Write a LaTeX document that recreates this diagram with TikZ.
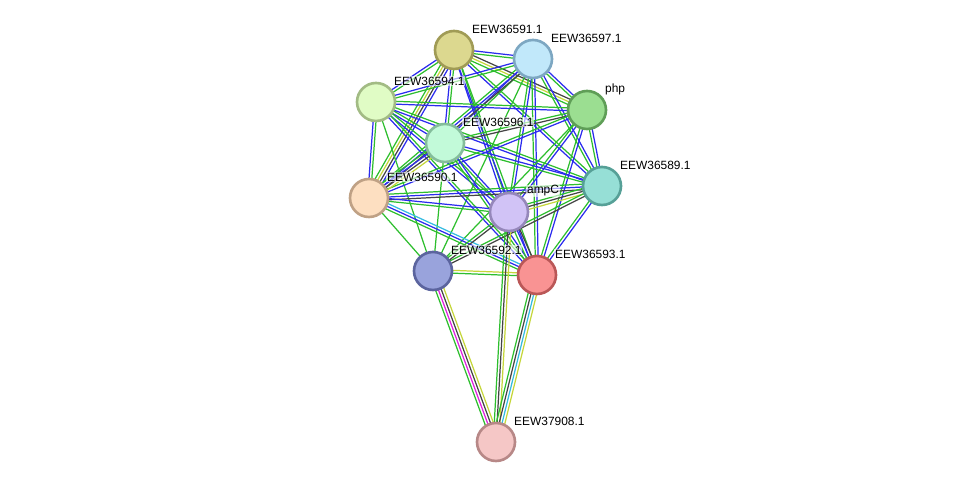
\documentclass[tikz,border=0pt]{standalone}
\usepackage{fontspec}
\setmainfont{Liberation Sans}
\usetikzlibrary{calc,backgrounds}

\definecolor{sgreen}{HTML}{2DBE2D}
\definecolor{sblue}{HTML}{2B2BEE}
\definecolor{sblack}{HTML}{444444}
\definecolor{syellow}{HTML}{C5D63A}
\definecolor{smagenta}{HTML}{E020E0}
\definecolor{scyan}{HTML}{33BBE0}

% one link = several thin parallel lines, one per evidence colour
\newcommand\link[3]{%
  \edef\linkcols{#3}%
  \foreach \c [count=\n] in \linkcols {\xdef\nlines{\n}}%
  \foreach \c [count=\k] in \linkcols {%
    \pgfmathsetmacro\off{(\k-(\nlines+1)/2)*1.6}%
    \draw[\c] ($(#1)!\off pt!90:(#2)$) -- ($(#2)!\off pt!-90:(#1)$);}}

\begin{document}
\begin{tikzpicture}[
  prot/.style={circle,minimum size=7.6mm,inner sep=0pt,line width=1.5pt},
  lbl/.style={label distance=0pt,xshift=-0.7mm,yshift=4.2mm,font=\fontsize{6.8}{8}\selectfont,
    fill=white,fill opacity=0.6,text opacity=1,inner sep=0.4pt},
  every path/.style={line width=0.7pt}]
\useasboundingbox (0,0) rectangle (19.5,9.76);
\node[prot,fill={rgb,255:red,220;green,216;blue,143},draw={rgb,255:red,160;green,155;blue,85},label={[lbl]east:EEW36591.1}] (w91) at (9.08,8.76) {};
\node[prot,fill={rgb,255:red,193;green,232;blue,250},draw={rgb,255:red,125;green,167;blue,194},label={[lbl]east:EEW36597.1}] (w97) at (10.66,8.58) {};
\node[prot,fill={rgb,255:red,224;green,252;blue,197},draw={rgb,255:red,162;green,187;blue,132},label={[lbl]east:EEW36594.1}] (w94) at (7.52,7.72) {};
\node[prot,fill={rgb,255:red,155;green,222;blue,145},draw={rgb,255:red,95;green,158;blue,87},label={[lbl]east:php}] (php) at (11.74,7.56) {};
\node[prot,fill={rgb,255:red,194;green,250;blue,217},draw={rgb,255:red,132;green,189;blue,155},label={[lbl]east:EEW36596.1}] (w96) at (8.90,6.90) {};
\node[prot,fill={rgb,255:red,150;green,223;blue,214},draw={rgb,255:red,86;green,160;blue,151},label={[lbl]east:EEW36589.1}] (w89) at (12.04,6.04) {};
\node[prot,fill={rgb,255:red,253;green,223;blue,193},draw={rgb,255:red,191;green,161;blue,133},label={[lbl]east:EEW36590.1}] (w90) at (7.38,5.80) {};
\node[prot,fill={rgb,255:red,209;green,195;blue,246},draw={rgb,255:red,149;green,135;blue,186},label={[lbl]east:ampC}] (ampC) at (10.18,5.52) {};
\node[prot,fill={rgb,255:red,153;green,163;blue,220},draw={rgb,255:red,91;green,100;blue,158},label={[lbl]east:EEW36592.1}] (w92) at (8.66,4.34) {};
\node[prot,fill={rgb,255:red,249;green,147;blue,147},draw={rgb,255:red,186;green,87;blue,87},label={[lbl]east:EEW36593.1}] (w93) at (10.74,4.26) {};
\node[prot,fill={rgb,255:red,245;green,199;blue,198},draw={rgb,255:red,183;green,136;blue,135},label={[lbl]east:EEW37908.1}] (w08) at (9.92,0.92) {};
\begin{scope}[on background layer]
\foreach \u/\v/\cols in {
  w91/w97/{sgreen,sblue}, w91/w94/{sblue,sgreen}, w91/php/{sgreen,syellow,sblack},
  w91/w96/{sblue,sgreen}, w91/w89/{sblue,sgreen}, w91/w90/{sgreen,syellow,sblack,sblue},
  w91/ampC/{sblue,sgreen}, w91/w93/{sblue,sgreen},
  w97/w94/{sblue,sgreen}, w97/php/{sgreen,sblue}, w97/w96/{sblue,sgreen},
  w97/w89/{sgreen,sblue}, w97/ampC/{sgreen,sblue}, w97/w93/{sgreen,sblue},
  w97/w90/{sgreen,sblue,sblack}, w97/w92/{sgreen},
  w94/php/{sblue,sgreen}, w94/w96/{sblue,sgreen}, w94/w89/{sblue,sgreen},
  w94/w90/{sblue,sgreen}, w94/ampC/{sblue,sgreen}, w94/w93/{sblue,sgreen}, w94/w92/{sgreen},
  php/w96/{sgreen,sblack}, php/w89/{sgreen,sblue}, php/w90/{sgreen,sblue},
  php/ampC/{sgreen,sblue}, php/w93/{sgreen,sblue}, php/w92/{sgreen},
  w96/w89/{sgreen,sblue}, w96/w90/{sgreen,sblue,sblack,syellow}, w96/ampC/{sgreen,sblue},
  w96/w93/{sgreen,sblue}, w96/w92/{sgreen},
  w89/w90/{sgreen,sblue,sblack}, w89/ampC/{sgreen,sblack,syellow}, w89/w93/{sgreen,sblue},
  w89/w92/{sgreen,sblack},
  w90/ampC/{sgreen,sblue}, w90/w93/{sgreen,sblue,scyan}, w90/w92/{sgreen},
  ampC/w93/{sgreen,sblue,sblack}, ampC/w92/{sgreen,sblack}, w92/w93/{sgreen,syellow},
  ampC/w08/{sgreen,sblack,syellow}, w92/w08/{sgreen,smagenta,sblack,syellow},
  w93/w08/{sgreen,sblack,scyan,syellow}}
  \link{\u}{\v}{\cols};
\end{scope}
\end{tikzpicture}
\end{document}
